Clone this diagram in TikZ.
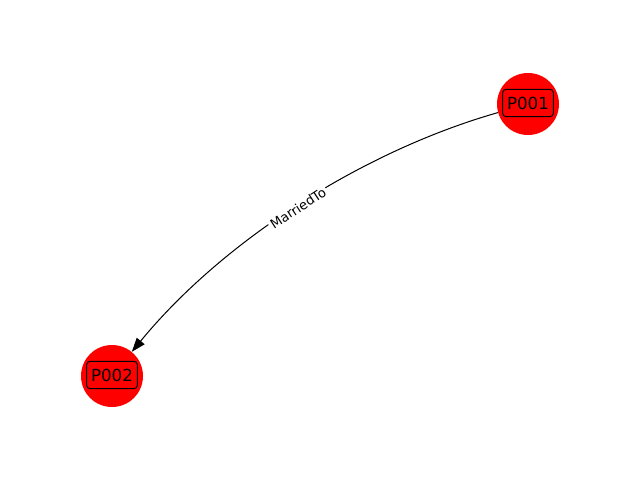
\documentclass[tikz,border=0pt]{standalone}
\usepackage{fontspec}
\setmainfont{DejaVu Sans}
\usetikzlibrary{arrows.meta}
\begin{document}
\begin{tikzpicture}[x=0.75pt,y=0.75pt,
  vertex/.style={circle,fill=red,draw=none,minimum size=46.5pt,inner sep=0pt},
  tag/.style={draw=black,rounded corners=2.5pt,line width=0.75pt,minimum width=38pt,minimum height=20.5pt,inner sep=1pt,font=\fontsize{12.5}{14}\selectfont},
  edgelabel/.style={fill=white,inner sep=1.5pt,font=\fontsize{9.8}{11}\selectfont},
  rel/.style={line width=0.75pt,-{Triangle[length=10.5pt,width=7.5pt]}}]
\useasboundingbox (0,0) rectangle (640,480);
\node[vertex] (a) at (528,376) {};
\node[vertex] (b) at (112,104) {};
\node[tag] (ta) at (528,377) {P001};
\node[tag] (tb) at (112,105) {P002};
\coordinate (c1) at (360,328);
\coordinate (c2) at (221.3,237.3);
\draw[rel] (a) .. controls (c1) and (c2) .. (b);
\node[edgelabel,rotate=33.2] (lab) at (298,272) {MarriedTo};
\end{tikzpicture}
\end{document}
